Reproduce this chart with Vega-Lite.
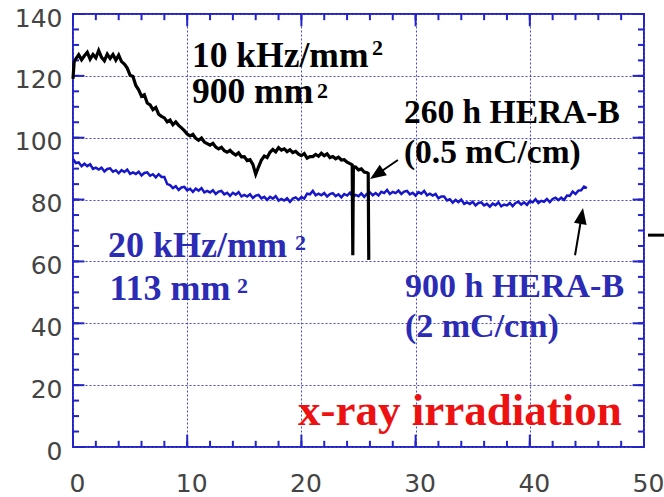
{
  "$schema": "https://vega.github.io/schema/vega-lite/v6.json",
  "autosize": "none",
  "width": 571,
  "height": 433,
  "padding": {"left": 73, "top": 14, "right": 20, "bottom": 50},
  "background": "white",
  "config": {
    "view": {"stroke": "#2323c8", "strokeWidth": 2},
    "axis": {
      "labelFont": "DejaVu Sans",
      "labelFontSize": 25,
      "labelColor": "#444444",
      "ticks": false,
      "domain": false,
      "title": null,
      "labelFlush": false,
      "labelOverlap": false
    },
    "text": {"font": "Liberation Serif", "fontWeight": "bold", "align": "left", "baseline": "alphabetic"}
  },
  "datasets": {
    "blue": [
      {"x":0,"y":93.1},{"x":0.25,"y":91.8},{"x":0.5,"y":92.0},{"x":0.75,"y":90.8},{"x":1,"y":91.6},{"x":1.25,"y":90.8},{"x":1.5,"y":91.4},{"x":1.75,"y":89.9},
      {"x":2,"y":90.3},{"x":2.25,"y":89.7},{"x":2.5,"y":90.3},{"x":2.75,"y":89.1},{"x":3,"y":89.9},{"x":3.25,"y":90.1},{"x":3.5,"y":89.0},{"x":3.75,"y":89.5},
      {"x":4,"y":88.5},{"x":4.25,"y":89.5},{"x":4.5,"y":88.9},{"x":4.75,"y":89.7},{"x":5,"y":88.3},{"x":5.25,"y":88.8},{"x":5.5,"y":88.3},{"x":5.75,"y":89.0},
      {"x":6,"y":87.8},{"x":6.25,"y":88.6},{"x":6.5,"y":88.8},{"x":6.75,"y":87.7},{"x":7,"y":88.2},{"x":7.25,"y":87.2},{"x":7.5,"y":88.2},{"x":7.75,"y":87.3},
      {"x":8,"y":87.3},{"x":8.25,"y":85.0},{"x":8.5,"y":84.7},{"x":8.75,"y":83.7},{"x":9,"y":84.3},{"x":9.25,"y":83.1},{"x":9.5,"y":83.9},{"x":9.75,"y":84.1},
      {"x":10,"y":83.0},{"x":10.25,"y":83.5},{"x":10.5,"y":82.5},{"x":10.75,"y":83.5},{"x":11,"y":82.9},{"x":11.25,"y":83.7},{"x":11.5,"y":82.3},{"x":11.75,"y":82.8},
      {"x":12,"y":82.3},{"x":12.25,"y":83.0},{"x":12.5,"y":81.8},{"x":12.75,"y":82.6},{"x":13,"y":82.8},{"x":13.25,"y":81.7},{"x":13.5,"y":82.2},{"x":13.75,"y":81.2},
      {"x":14,"y":82.2},{"x":14.25,"y":81.6},{"x":14.5,"y":82.4},{"x":14.75,"y":81.0},{"x":15,"y":81.5},{"x":15.25,"y":81.0},{"x":15.5,"y":81.7},{"x":15.75,"y":80.5},
      {"x":16,"y":81.3},{"x":16.25,"y":81.5},{"x":16.5,"y":80.4},{"x":16.75,"y":80.9},{"x":17,"y":79.9},{"x":17.25,"y":80.9},{"x":17.5,"y":80.3},{"x":17.75,"y":81.1},
      {"x":18,"y":79.7},{"x":18.25,"y":80.2},{"x":18.5,"y":79.7},{"x":18.75,"y":80.4},{"x":19,"y":79.3},{"x":19.25,"y":80.3},{"x":19.5,"y":80.7},{"x":19.75,"y":79.9},
      {"x":20,"y":80.8},{"x":20.25,"y":80.3},{"x":20.5,"y":81.9},{"x":20.75,"y":81.7},{"x":21,"y":82.8},{"x":21.25,"y":81.4},{"x":21.5,"y":81.9},{"x":21.75,"y":81.4},
      {"x":22,"y":82.1},{"x":22.25,"y":81.0},{"x":22.5,"y":81.8},{"x":22.75,"y":82.1},{"x":23,"y":81.1},{"x":23.25,"y":81.7},{"x":23.5,"y":80.7},{"x":23.75,"y":81.8},
      {"x":24,"y":81.3},{"x":24.25,"y":82.2},{"x":24.5,"y":80.9},{"x":24.75,"y":81.5},{"x":25,"y":81.1},{"x":25.25,"y":82.0},{"x":25.5,"y":80.9},{"x":25.75,"y":81.9},
      {"x":26,"y":82.3},{"x":26.25,"y":81.4},{"x":26.5,"y":82.1},{"x":26.75,"y":81.3},{"x":27,"y":82.5},{"x":27.25,"y":82.1},{"x":27.5,"y":83.1},{"x":27.75,"y":81.8},
      {"x":28,"y":82.5},{"x":28.25,"y":82.1},{"x":28.5,"y":82.9},{"x":28.75,"y":81.8},{"x":29,"y":82.6},{"x":29.25,"y":82.8},{"x":29.5,"y":81.7},{"x":29.75,"y":82.2},
      {"x":30,"y":81.3},{"x":30.25,"y":82.4},{"x":30.5,"y":81.9},{"x":30.75,"y":82.8},{"x":31,"y":81.4},{"x":31.25,"y":81.9},{"x":31.5,"y":81.3},{"x":31.75,"y":81.8},
      {"x":32,"y":80.4},{"x":32.25,"y":81.0},{"x":32.5,"y":81.0},{"x":32.75,"y":79.7},{"x":33,"y":80.1},{"x":33.25,"y":79.0},{"x":33.5,"y":79.9},{"x":33.75,"y":79.2},
      {"x":34,"y":80.0},{"x":34.25,"y":78.6},{"x":34.5,"y":79.1},{"x":34.75,"y":78.6},{"x":35,"y":79.3},{"x":35.25,"y":78.1},{"x":35.5,"y":78.9},{"x":35.75,"y":79.1},
      {"x":36,"y":78.1},{"x":36.25,"y":78.6},{"x":36.5,"y":77.7},{"x":36.75,"y":78.7},{"x":37,"y":78.2},{"x":37.25,"y":79.1},{"x":37.5,"y":77.8},{"x":37.75,"y":78.4},
      {"x":38,"y":78.1},{"x":38.25,"y":78.9},{"x":38.5,"y":77.9},{"x":38.75,"y":78.9},{"x":39,"y":79.3},{"x":39.25,"y":78.4},{"x":39.5,"y":79.1},{"x":39.75,"y":78.3},
      {"x":40,"y":79.5},{"x":40.25,"y":79.1},{"x":40.5,"y":80.1},{"x":40.75,"y":78.9},{"x":41,"y":79.6},{"x":41.25,"y":79.3},{"x":41.5,"y":80.2},{"x":41.75,"y":79.2},
      {"x":42,"y":80.2},{"x":42.25,"y":80.6},{"x":42.5,"y":79.8},{"x":42.75,"y":80.6},{"x":43,"y":79.9},{"x":43.25,"y":81.3},{"x":43.5,"y":81.2},{"x":43.75,"y":82.6},
      {"x":44,"y":81.8},{"x":44.25,"y":82.9},{"x":44.5,"y":83.0},{"x":44.75,"y":84.2},{"x":45,"y":83.7}
    ],
    "black": [
      {"x":0,"y":119.0},{"x":0.1,"y":124.5},{"x":0.25,"y":125.5},{"x":0.5,"y":126.8},{"x":0.75,"y":125.2},{"x":1,"y":126.5},{"x":1.25,"y":127.6},{"x":1.5,"y":125.4},{"x":1.75,"y":126.9},
      {"x":2,"y":125.8},{"x":2.25,"y":128.2},{"x":2.5,"y":126.0},{"x":2.75,"y":124.9},{"x":3,"y":127.0},{"x":3.25,"y":125.6},{"x":3.5,"y":126.9},{"x":3.75,"y":125.1},
      {"x":4,"y":126.7},{"x":4.25,"y":124.6},{"x":4.5,"y":123.8},{"x":4.75,"y":122.5},{"x":5,"y":120.2},{"x":5.25,"y":119.8},{"x":5.5,"y":116.9},{"x":5.75,"y":115.5},
      {"x":6,"y":113.4},{"x":6.25,"y":113.9},{"x":6.5,"y":111.2},{"x":6.75,"y":110.6},{"x":7,"y":109.1},{"x":7.25,"y":109.8},{"x":7.5,"y":107.6},{"x":7.75,"y":106.9},
      {"x":8,"y":106.4},{"x":8.25,"y":105.1},{"x":8.5,"y":105.7},{"x":8.75,"y":104.2},{"x":9,"y":105.1},{"x":9.25,"y":104.0},{"x":9.5,"y":103.2},{"x":9.75,"y":102.3},
      {"x":10,"y":101.2},{"x":10.25,"y":100.6},{"x":10.5,"y":101.1},{"x":10.75,"y":99.8},{"x":11,"y":99.2},{"x":11.25,"y":99.9},{"x":11.5,"y":98.6},{"x":11.75,"y":98.1},
      {"x":12,"y":97.6},{"x":12.25,"y":98.2},{"x":12.5,"y":97.0},{"x":12.75,"y":96.4},{"x":13,"y":96.9},{"x":13.25,"y":95.8},{"x":13.5,"y":95.3},{"x":13.75,"y":95.9},
      {"x":14,"y":95.0},{"x":14.25,"y":94.4},{"x":14.5,"y":95.1},{"x":14.75,"y":93.8},{"x":15,"y":93.9},{"x":15.25,"y":92.6},{"x":15.5,"y":92.9},{"x":15.75,"y":91.4},
      {"x":16,"y":88.2},{"x":16.25,"y":90.6},{"x":16.5,"y":92.8},{"x":16.75,"y":94.1},{"x":17,"y":93.6},{"x":17.25,"y":95.3},{"x":17.5,"y":96.2},{"x":17.75,"y":95.4},
      {"x":18,"y":96.8},{"x":18.25,"y":96.0},{"x":18.5,"y":96.4},{"x":18.75,"y":95.5},{"x":19,"y":96.1},{"x":19.25,"y":95.2},{"x":19.5,"y":95.6},{"x":19.75,"y":94.7},
      {"x":20,"y":94.2},{"x":20.25,"y":94.9},{"x":20.5,"y":93.4},{"x":20.75,"y":93.9},{"x":21,"y":93.9},{"x":21.25,"y":94.6},{"x":21.5,"y":94.0},{"x":21.75,"y":95.0},
      {"x":22,"y":94.2},{"x":22.25,"y":94.8},{"x":22.5,"y":93.6},{"x":22.75,"y":93.9},{"x":23,"y":93.2},{"x":23.25,"y":93.7},{"x":23.5,"y":92.8},{"x":23.75,"y":92.9},
      {"x":24,"y":92.1},{"x":24.25,"y":91.6},{"x":24.45,"y":91.2},{"x":24.5,"y":62.0},{"x":24.55,"y":90.6},{"x":24.75,"y":90.5},{"x":25,"y":89.6},{"x":25.25,"y":89.9},
      {"x":25.5,"y":88.9},{"x":25.75,"y":88.7},{"x":25.85,"y":88.4},{"x":25.9,"y":60.5}
    ],
    "texts": [
      {"x":10.42,"y":122.9,"t":"10 kHz/mm","g":"k"},
      {"x":26.18,"y":126.7,"t":"2","g":"ks"},
      {"x":10.42,"y":111.2,"t":"900 mm","g":"k"},
      {"x":21.37,"y":112.8,"t":"2","g":"ks"},
      {"x":28.98,"y":104.8,"t":"260 h HERA-B","g":"k2"},
      {"x":28.98,"y":91.8,"t":"(0.5 mC/cm)","g":"k2"},
      {"x":3.06,"y":61.4,"t":"20 kHz/mm","g":"b"},
      {"x":19.44,"y":63.7,"t":"2","g":"bs"},
      {"x":3.2,"y":47.5,"t":"113 mm","g":"b"},
      {"x":14.36,"y":49.8,"t":"2","g":"bs"},
      {"x":29.07,"y":48.5,"t":"900 h HERA-B","g":"b2"},
      {"x":29.07,"y":35.6,"t":"(2 mC/cm)","g":"b2"},
      {"x":19.7,"y":7.1,"t":"x-ray irradiation","g":"r"}
    ],
    "arrows": [
      {"x":28.45,"y":92.8,"x2":26.59,"y2":88.1,"a":235.9},
      {"x":43.96,"y":62.0,"x2":44.54,"y2":74.7,"a":9.7}
    ],
    "dash": [{"x":50.35,"x2":51.75,"y":68.5}],
    "xminor": [{"v":0},{"v":2},{"v":4},{"v":6},{"v":8},{"v":10},{"v":12},{"v":14},{"v":16},{"v":18},{"v":20},{"v":22},{"v":24},{"v":26},{"v":28},{"v":30},{"v":32},{"v":34},{"v":36},{"v":38},{"v":40},{"v":42},{"v":44},{"v":46},{"v":48},{"v":50}],
    "xmajor": [{"v":0},{"v":10},{"v":20},{"v":30},{"v":40},{"v":50}],
    "yminor": [{"v":0},{"v":5},{"v":10},{"v":15},{"v":20},{"v":25},{"v":30},{"v":35},{"v":40},{"v":45},{"v":50},{"v":55},{"v":60},{"v":65},{"v":70},{"v":75},{"v":80},{"v":85},{"v":90},{"v":95},{"v":100},{"v":105},{"v":110},{"v":115},{"v":120},{"v":125},{"v":130},{"v":135},{"v":140}],
    "ymajor": [{"v":0},{"v":20},{"v":40},{"v":60},{"v":80},{"v":100},{"v":120},{"v":140}]
  },
  "layer": [
    {
      "data": {"name": "dash"},
      "mark": {"type": "rule", "color": "#000000", "strokeWidth": 3},
      "encoding": {
        "x": {"field": "x", "type": "quantitative",
              "scale": {"domain": [0, 50], "nice": false},
              "axis": {"orient": "bottom", "values": [0,10,20,30,40,50], "labelPadding": 24, "labelOffset": 4,
                       "grid": true, "gridColor": "#4646d2", "gridDash": [2, 2], "gridWidth": 1}},
        "x2": {"field": "x2"},
        "y": {"field": "y", "type": "quantitative",
              "scale": {"domain": [0, 140], "nice": false},
              "axis": {"orient": "left", "values": [0,20,40,60,80,100,120,140], "labelPadding": 11, "labelOffset": 4,
                       "grid": true, "gridColor": "#4646d2", "gridDash": [2, 2], "gridWidth": 1}}
      }
    },
    {
      "data": {"name": "xminor"},
      "mark": {"type": "rule", "color": "#2323c8", "strokeWidth": 2},
      "encoding": {"x": {"field": "v", "type": "quantitative"}, "y": {"datum": 0, "type": "quantitative"}, "y2": {"datum": 2.0}}
    },
    {
      "data": {"name": "xminor"},
      "mark": {"type": "rule", "color": "#2323c8", "strokeWidth": 2},
      "encoding": {"x": {"field": "v", "type": "quantitative"}, "y": {"datum": 140, "type": "quantitative"}, "y2": {"datum": 138.0}}
    },
    {
      "data": {"name": "xmajor"},
      "mark": {"type": "rule", "color": "#2323c8", "strokeWidth": 2},
      "encoding": {"x": {"field": "v", "type": "quantitative"}, "y": {"datum": 0, "type": "quantitative"}, "y2": {"datum": 4.0}}
    },
    {
      "data": {"name": "xmajor"},
      "mark": {"type": "rule", "color": "#2323c8", "strokeWidth": 2},
      "encoding": {"x": {"field": "v", "type": "quantitative"}, "y": {"datum": 140, "type": "quantitative"}, "y2": {"datum": 136.0}}
    },
    {
      "data": {"name": "yminor"},
      "mark": {"type": "rule", "color": "#2323c8", "strokeWidth": 2},
      "encoding": {"y": {"field": "v", "type": "quantitative"}, "x": {"datum": 0, "type": "quantitative"}, "x2": {"datum": 0.53}}
    },
    {
      "data": {"name": "yminor"},
      "mark": {"type": "rule", "color": "#2323c8", "strokeWidth": 2},
      "encoding": {"y": {"field": "v", "type": "quantitative"}, "x": {"datum": 50, "type": "quantitative"}, "x2": {"datum": 49.47}}
    },
    {
      "data": {"name": "ymajor"},
      "mark": {"type": "rule", "color": "#2323c8", "strokeWidth": 2},
      "encoding": {"y": {"field": "v", "type": "quantitative"}, "x": {"datum": 0, "type": "quantitative"}, "x2": {"datum": 1.0}}
    },
    {
      "data": {"name": "ymajor"},
      "mark": {"type": "rule", "color": "#2323c8", "strokeWidth": 2},
      "encoding": {"y": {"field": "v", "type": "quantitative"}, "x": {"datum": 50, "type": "quantitative"}, "x2": {"datum": 49.0}}
    },
    {
      "data": {"name": "blue"},
      "mark": {"type": "line", "color": "#1717c8", "strokeWidth": 2.5},
      "encoding": {"x": {"field": "x", "type": "quantitative"}, "y": {"field": "y", "type": "quantitative"}}
    },
    {
      "data": {"name": "black"},
      "mark": {"type": "line", "color": "#000000", "strokeWidth": 3.2},
      "encoding": {"x": {"field": "x", "type": "quantitative"}, "y": {"field": "y", "type": "quantitative"}}
    },
    {
      "data": {"name": "arrows"},
      "mark": {"type": "rule", "color": "#000000", "strokeWidth": 2},
      "encoding": {
        "x": {"field": "x", "type": "quantitative"},
        "y": {"field": "y", "type": "quantitative"},
        "x2": {"field": "x2"},
        "y2": {"field": "y2"}
      }
    },
    {
      "data": {"name": "arrows"},
      "mark": {"type": "point", "shape": "M0,-1L0.8,1L-0.8,1Z", "filled": true, "color": "#000000", "size": 256, "opacity": 1},
      "encoding": {
        "x": {"field": "x2", "type": "quantitative"},
        "y": {"field": "y2", "type": "quantitative"},
        "angle": {"field": "a", "type": "quantitative", "scale": null}
      }
    },
    {
      "data": {"name": "texts"},
      "transform": [{"filter": "datum.g == 'k'"}],
      "mark": {"type": "text", "fontSize": 35.5, "color": "#000000"},
      "encoding": {"x": {"field": "x", "type": "quantitative"}, "y": {"field": "y", "type": "quantitative"}, "text": {"field": "t"}}
    },
    {
      "data": {"name": "texts"},
      "transform": [{"filter": "datum.g == 'ks'"}],
      "mark": {"type": "text", "fontSize": 22, "color": "#000000"},
      "encoding": {"x": {"field": "x", "type": "quantitative"}, "y": {"field": "y", "type": "quantitative"}, "text": {"field": "t"}}
    },
    {
      "data": {"name": "texts"},
      "transform": [{"filter": "datum.g == 'k2'"}],
      "mark": {"type": "text", "fontSize": 33.5, "color": "#000000"},
      "encoding": {"x": {"field": "x", "type": "quantitative"}, "y": {"field": "y", "type": "quantitative"}, "text": {"field": "t"}}
    },
    {
      "data": {"name": "texts"},
      "transform": [{"filter": "datum.g == 'b'"}],
      "mark": {"type": "text", "fontSize": 36, "color": "#2b2bb5"},
      "encoding": {"x": {"field": "x", "type": "quantitative"}, "y": {"field": "y", "type": "quantitative"}, "text": {"field": "t"}}
    },
    {
      "data": {"name": "texts"},
      "transform": [{"filter": "datum.g == 'bs'"}],
      "mark": {"type": "text", "fontSize": 22, "color": "#2b2bb5"},
      "encoding": {"x": {"field": "x", "type": "quantitative"}, "y": {"field": "y", "type": "quantitative"}, "text": {"field": "t"}}
    },
    {
      "data": {"name": "texts"},
      "transform": [{"filter": "datum.g == 'b2'"}],
      "mark": {"type": "text", "fontSize": 34, "color": "#2b2bb5"},
      "encoding": {"x": {"field": "x", "type": "quantitative"}, "y": {"field": "y", "type": "quantitative"}, "text": {"field": "t"}}
    },
    {
      "data": {"name": "texts"},
      "transform": [{"filter": "datum.g == 'r'"}],
      "mark": {"type": "text", "fontSize": 45, "color": "#ee1111"},
      "encoding": {"x": {"field": "x", "type": "quantitative"}, "y": {"field": "y", "type": "quantitative"}, "text": {"field": "t"}}
    }
  ]
}
